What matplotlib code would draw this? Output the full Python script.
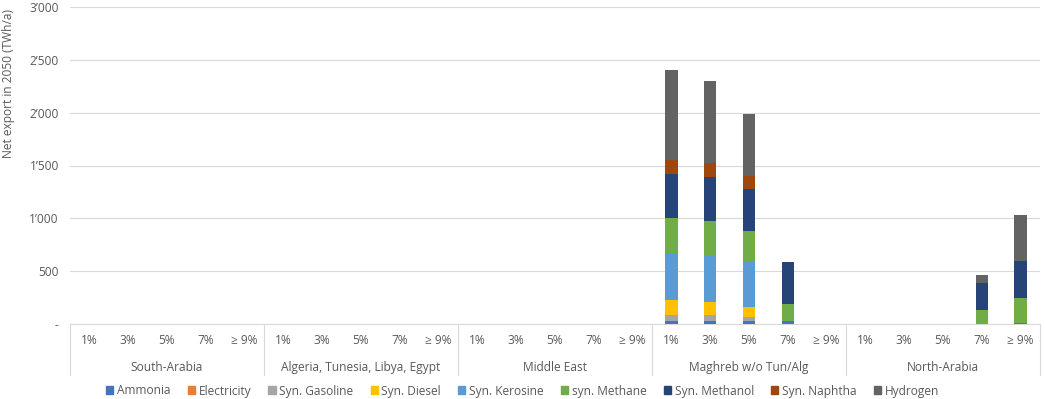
import numpy as np
import matplotlib
matplotlib.use("Agg")
import matplotlib.pyplot as plt
from matplotlib.patches import Patch
from matplotlib.ticker import FuncFormatter

plt.rcParams['font.family'] = ['Open Sans', 'DejaVu Sans']

# regions and rate levels (two-level category axis)
regions = ["South-Arabia", "Algeria, Tunesia, Libya, Egypt", "Middle East",
           "Maghreb w/o Tun/Alg", "North-Arabia"]
levels = ["1%", "3%", "5%", "7%", "\u2265 9%"]

# net export per product, 25 slots = 5 regions x 5 levels (TWh/a)
zeros15 = [0] * 15
ammonia   = zeros15 + [28, 28, 25, 28, 0] + [0, 0, 0, 0, 12]
electric  = zeros15 + [0, 0, 0, 0, 0] + [0, 0, 0, 0, 0]
gasoline  = zeros15 + [60, 54, 44, 0, 0] + [0, 0, 0, 0, 0]
diesel    = zeros15 + [142, 126, 92, 0, 0] + [0, 0, 0, 0, 0]
kerosine  = zeros15 + [442, 438, 428, 0, 0] + [0, 0, 0, 0, 0]
methane   = zeros15 + [331, 331, 291, 158, 0] + [0, 0, 0, 132, 237]
methanol  = zeros15 + [413, 411, 400, 403, 0] + [0, 0, 0, 259, 344]
naphtha   = zeros15 + [138, 135, 117, 0, 0] + [0, 0, 0, 0, 0]
hydrogen  = zeros15 + [849, 776, 593, 0, 0] + [0, 0, 0, 70, 435]

series = [
    ("Ammonia", ammonia, "#4472C4"),
    ("Electricity", electric, "#ED7D31"),
    ("Syn. Gasoline", gasoline, "#A5A5A5"),
    ("Syn. Diesel", diesel, "#FFC000"),
    ("Syn. Kerosine", kerosine, "#5B9BD5"),
    ("syn. Methane", methane, "#70AD47"),
    ("Syn. Methanol", methanol, "#264478"),
    ("Syn. Naphtha", naphtha, "#9E480E"),
    ("Hydrogen", hydrogen, "#636363"),
]

fs = 8.6
grey = "#595959"

fig = plt.figure(figsize=(10.45, 3.99), dpi=100)
ax = fig.add_axes([70 / 1045, 1 - 324 / 399, 970 / 1045, 317 / 399])

x = np.arange(len(regions) * len(levels))
bottom = np.zeros(len(x))
for name, vals, col in series:
    vals = np.array(vals, dtype=float)
    ax.bar(x, vals, 0.32, bottom=bottom, color=col, zorder=3)
    bottom += vals

ax.set_xlim(-0.5, len(x) - 0.5)
ax.set_ylim(0, 3000)
ax.set_yticks(np.arange(0, 3001, 500))
ax.yaxis.set_major_formatter(FuncFormatter(
    lambda v, p: "-" if v == 0 else f"{int(v):,}".replace(",", "\u2019")))
ax.grid(axis='y', color="#D9D9D9", lw=0.8, zorder=0)
for s in ['top', 'right', 'left']:
    ax.spines[s].set_visible(False)
ax.spines['bottom'].set_color("#D9D9D9")
ax.tick_params(axis='y', length=0, labelsize=fs, labelcolor=grey, pad=8)

ax.set_xticks(x)
ax.set_xticklabels(levels * len(regions))
ax.tick_params(axis='x', length=0, labelsize=fs, labelcolor=grey, pad=7)

ax.set_ylabel("Net export in 2050 (TWh/a)", fontsize=fs, color=grey, va='center')
ax.yaxis.set_label_coords(-0.063, 0.76)

# region labels and separators below the axis
tr = ax.get_xaxis_transform()
for i, r in enumerate(regions):
    ax.annotate(r, xy=(i * 5 + 2, 0), xycoords=tr, xytext=(0, -31),
                textcoords='offset points', ha='center', va='center',
                fontsize=fs, color=grey)
for b in np.arange(-0.5, len(x), 5):
    ax.plot([b, b], [0, -0.161], transform=tr, clip_on=False,
            color="#D9D9D9", lw=0.8)

handles = [Patch(color=c, label=n) for n, v, c in series]
fig.legend(handles=handles, loc='center', bbox_to_anchor=(0.5, 1 - 391 / 399),
           ncol=9, frameon=False, handlelength=0.6, handleheight=0.6,
           handletextpad=0.3, columnspacing=1.45, fontsize=fs,
           labelcolor=grey)

fig.savefig("out.png", dpi=100)
